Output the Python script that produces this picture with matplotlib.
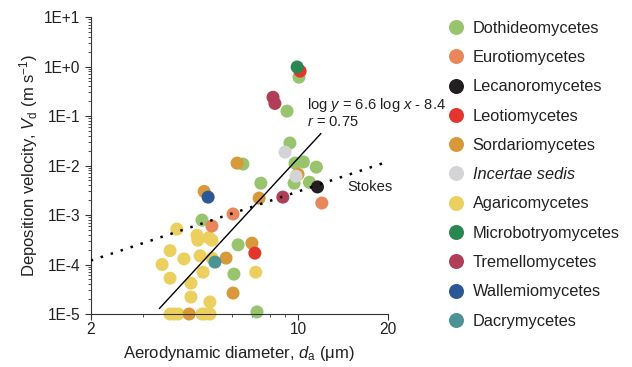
import matplotlib
matplotlib.use("Agg")
import matplotlib.pyplot as plt
from matplotlib.ticker import FixedLocator, NullFormatter, LogLocator

plt.rcParams["font.family"] = ["Liberation Sans", "DejaVu Sans"]
plt.rcParams["mathtext.fontset"] = "custom"
plt.rcParams["mathtext.rm"] = "Liberation Sans"
plt.rcParams["mathtext.it"] = "Liberation Sans:italic"

# aerodynamic diameter (um) and deposition velocity (m/s)
doth_d = [4.74, 6.27, 6.07, 7.26, 7.48, 6.51, 10.05, 9.16, 9.37, 9.75, 10.4, 11.5, 9.68, 10.9]
doth_v = [7.9e-4, 2.5e-4, 6.4e-5, 1.1e-5, 4.4e-3, 1.07e-2, 0.61, 0.126, 0.0285, 0.0112, 0.0118, 0.0093, 4.4e-3, 4.6e-3]

agar_d = [3.90, 4.56, 4.59, 5.00, 5.12, 3.70, 3.48, 4.12, 4.67, 3.70, 4.78, 4.35, 4.35, 5.04,
          7.19, 5.12, 3.70, 3.82, 3.94, 4.74, 4.85, 5.04]
agar_v = [5.2e-4, 3.9e-4, 3.1e-4, 3.5e-4, 3.1e-4, 1.9e-4, 1.0e-4, 1.3e-4, 1.5e-4, 5.3e-5, 7e-5, 4.2e-5, 2.2e-5, 1.75e-5,
          7e-5, 1.35e-4, 1e-5, 1e-5, 1e-5, 1e-5, 1e-5, 1e-5]

sord_d = [4.82, 6.22, 7.38, 5.71, 6.98, 6.03, 4.29, 9.98]
sord_v = [3.0e-3, 1.12e-2, 2.2e-3, 1.35e-4, 2.7e-4, 2.65e-5, 1e-5, 6.7e-3]

euro_d = [5.12, 6.03, 12.0]
euro_v = [6e-4, 1.05e-3, 1.75e-3]

leca_d = [11.6]
leca_v = [3.7e-3]

leot_d = [7.14, 10.14]
leot_v = [1.7e-4, 0.81]

inc_d = [9.02, 9.82]
inc_v = [0.0187, 6.1e-3]

micr_d = [9.91]
micr_v = [0.98]

trem_d = [8.22, 8.34, 8.87]
trem_v = [0.24, 0.18, 2.3e-3]

wall_d = [4.97]
wall_v = [2.3e-3]

dacr_d = [5.24]
dacr_v = [1.12e-4]

# fitted regression line (log y = 6.6 log x - 8.4) and Stokes settling line end points
fit_d = [3.41, 11.9]
fit_v = [1.3e-5, 4.4e-2]
stokes_d = [2, 20]
stokes_v = [1.2e-4, 1.2e-2]

legend_names = ["Dothideomycetes", "Eurotiomycetes", "Lecanoromycetes", "Leotiomycetes",
                "Sordariomycetes", "Incertae sedis", "Agaricomycetes", "Microbotryomycetes",
                "Tremellomycetes", "Wallemiomycetes", "Dacrymycetes"]
legend_colors = ["#98c46e", "#e8865c", "#231f20", "#e2362c", "#d8993a", "#d4d4d6",
                 "#ecd05f", "#2b8751", "#b03e57", "#2b5797", "#4c9396"]
col = dict(zip(legend_names, legend_colors))

y_ticks = [1e-5, 1e-4, 1e-3, 1e-2, 1e-1, 1e0, 1e1]
y_labels = ["1E-5", "1E-4", "1E-3", "1E-2", "1E-1", "1E+0", "1E+1"]
x_ticks = [2, 10, 20]
x_labels = ["2", "10", "20"]

fig = plt.figure(figsize=(6.32, 3.67), dpi=100)
ax = fig.add_axes([0.1435, 0.1444, 0.470, 0.809])

ms = 88
draw = [
    (doth_d, doth_v, "Dothideomycetes"),
    (agar_d, agar_v, "Agaricomycetes"),
    (sord_d, sord_v, "Sordariomycetes"),
    (euro_d, euro_v, "Eurotiomycetes"),
    (leca_d, leca_v, "Lecanoromycetes"),
    (leot_d, leot_v, "Leotiomycetes"),
    (inc_d, inc_v, "Incertae sedis"),
    (micr_d, micr_v, "Microbotryomycetes"),
    (trem_d, trem_v, "Tremellomycetes"),
    (wall_d, wall_v, "Wallemiomycetes"),
    (dacr_d, dacr_v, "Dacrymycetes"),
]
for d, v, name in draw:
    ax.scatter(d, v, s=ms, color=col[name], edgecolors="none", clip_on=False, zorder=2)

ax.plot(fit_d, fit_v, color="black", lw=1.0, zorder=3)
ax.plot(stokes_d, stokes_v, color="black", lw=1.8, linestyle=(0, (1, 3.2)), zorder=3)

ax.set_xscale("log")
ax.set_yscale("log")
ax.set_xlim(2, 20)
ax.set_ylim(1e-5, 1e1)

ax.xaxis.set_major_locator(FixedLocator(x_ticks))
ax.set_xticklabels(x_labels)
ax.xaxis.set_minor_locator(FixedLocator([3, 4, 5, 6, 7, 8, 9]))
ax.xaxis.set_minor_formatter(NullFormatter())
ax.yaxis.set_major_locator(FixedLocator(y_ticks))
ax.set_yticklabels(y_labels)
ax.yaxis.set_minor_locator(LogLocator(base=10, subs=range(2, 10), numticks=20))
ax.yaxis.set_minor_formatter(NullFormatter())

for side in ["top", "right"]:
    ax.spines[side].set_visible(False)
for side in ["left", "bottom"]:
    ax.spines[side].set_linewidth(0.8)
    ax.spines[side].set_color("#333333")
ax.tick_params(which="major", length=4, width=0.8, labelsize=11.2, colors="#333333", labelcolor="#222222", pad=2)
ax.tick_params(axis="y", which="major", pad=3.5)
ax.tick_params(which="minor", length=2.5, width=0.6, colors="#333333")

ax.set_xlabel(r"Aerodynamic diameter, $d_{\rm a}$ ($\rm\mu$m)", fontsize=12, color="#222222", labelpad=5)
ax.set_ylabel(r"Deposition velocity, $V_{\rm d}$ (m s$^{-1}$)", fontsize=12, color="#222222", labelpad=3)

ax.text(10.7, 0.167, r"log $y$ = 6.6 log $x$ - 8.4", fontsize=10.6, color="#222222", va="center", ha="left")
ax.text(10.7, 0.0757, r"$r$ = 0.75", fontsize=10.6, color="#222222", va="center", ha="left")
ax.text(14.6, 3.7e-3, "Stokes", fontsize=10.6, color="#222222", va="center", ha="left")

handles = [plt.Line2D([], [], marker="o", linestyle="none", markersize=10.8,
                      markerfacecolor=c, markeredgecolor="none") for c in legend_colors]
leg = fig.legend(handles, legend_names, loc="upper left", bbox_to_anchor=(0.708, 0.943),
                 frameon=False, fontsize=11.8, labelspacing=0.87, handletextpad=0.54,
                 handlelength=1.0, borderaxespad=0, borderpad=0)
for t in leg.get_texts():
    t.set_color("#222222")
leg.get_texts()[5].set_fontstyle("italic")

fig.savefig("out.png", dpi=100)
